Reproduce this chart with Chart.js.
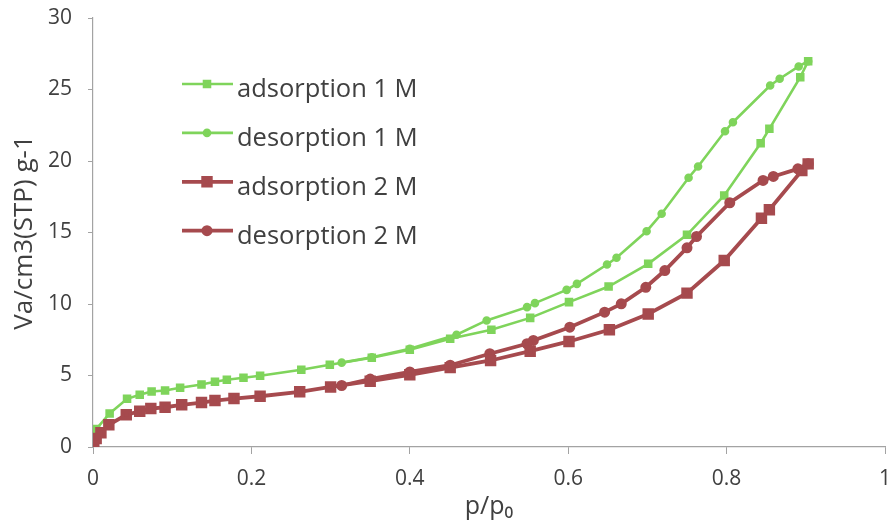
<!DOCTYPE html>
<html>
<head>
<meta charset="utf-8">
<title>Isotherm</title>
<script src="https://cdn.jsdelivr.net/npm/chart.js@4.4.1/dist/chart.umd.min.js"></script>
<style>
    html, body { margin: 0; padding: 0; background: #fff; }
    #wrap { width: 887px; height: 528px; }
</style>
</head>
<body>
<div id="wrap"><canvas id="isotherm_chart"></canvas></div>
<script>
// values (p/p0 and Va)
const ads1X = [0.001, 0.004, 0.021, 0.043, 0.059, 0.074, 0.091, 0.110, 0.137, 0.154, 0.169, 0.190, 0.211, 0.263, 0.299, 0.352, 0.400, 0.451, 0.503, 0.552, 0.601, 0.651, 0.701, 0.750, 0.797, 0.843, 0.854, 0.893, 0.903];
const ads1Y = [0.8, 1.25, 2.35, 3.37, 3.65, 3.88, 3.95, 4.14, 4.37, 4.56, 4.70, 4.84, 4.98, 5.40, 5.75, 6.24, 6.80, 7.57, 8.20, 9.03, 10.13, 11.22, 12.81, 14.84, 17.59, 21.24, 22.25, 25.86, 26.98];

const des1X = [0.903, 0.891, 0.867, 0.855, 0.808, 0.798, 0.764, 0.752, 0.718, 0.699, 0.661, 0.649, 0.611, 0.598, 0.558, 0.548, 0.497, 0.459, 0.400, 0.352, 0.314];
const des1Y = [26.98, 26.61, 25.75, 25.28, 22.71, 22.08, 19.62, 18.83, 16.31, 15.09, 13.23, 12.76, 11.41, 10.99, 10.06, 9.78, 8.85, 7.85, 6.87, 6.28, 5.90];

const ads2X = [0.001, 0.004, 0.010, 0.020, 0.042, 0.059, 0.073, 0.091, 0.112, 0.137, 0.154, 0.178, 0.211, 0.261, 0.300, 0.350, 0.400, 0.451, 0.502, 0.552, 0.601, 0.652, 0.701, 0.750, 0.797, 0.844, 0.854, 0.895, 0.903];
const ads2Y = [0.25, 0.6, 1.0, 1.55, 2.25, 2.5, 2.69, 2.78, 2.95, 3.11, 3.25, 3.39, 3.55, 3.86, 4.2, 4.6, 5.05, 5.55, 6.05, 6.70, 7.38, 8.2, 9.3, 10.76, 13.04, 16.0, 16.59, 19.34, 19.8];

const des2X = [0.903, 0.890, 0.859, 0.846, 0.804, 0.762, 0.750, 0.722, 0.698, 0.667, 0.646, 0.602, 0.556, 0.548, 0.501, 0.451, 0.400, 0.350, 0.314];
const des2Y = [19.8, 19.45, 18.92, 18.64, 17.08, 14.72, 13.93, 12.34, 11.17, 10.01, 9.43, 8.38, 7.45, 7.22, 6.52, 5.72, 5.25, 4.75, 4.3];

const seriesLabels = ['adsorption 1 M', 'desorption 1 M', 'adsorption 2 M', 'desorption 2 M'];
const xTitle = 'p/p\u2080';
const yTitle = 'Va/cm3(STP) g-1';

const green = '#7fd45b';
const red = '#a64a4e';
const axisColor = '#a3a3a3';
const textColor = '#404040';

const toPoints = (xs, ys) => xs.map((x, i) => ({x: x, y: ys[i]}));

// legend sits inside the plot, drawn by hand
const insideLegend = {
    id: 'insideLegend',
    afterDraw(chart) {
        const ctx = chart.ctx;
        ctx.save();
        chart.data.datasets.forEach((ds, i) => {
            const y = 84 + i * 48.9;
            ctx.strokeStyle = ds.borderColor;
            ctx.lineWidth = ds.borderWidth;
            ctx.beginPath();
            ctx.moveTo(182, y);
            ctx.lineTo(233, y);
            ctx.stroke();
            ctx.fillStyle = ds.pointBackgroundColor;
            ctx.strokeStyle = ds.pointBorderColor;
            Chart.helpers.drawPoint(ctx, {
                pointStyle: ds.pointStyle,
                radius: ds.pointRadius,
                borderWidth: 1,
                rotation: 0,
            }, 207, y);
            ctx.fillStyle = textColor;
            ctx.font = '25.5px "Open Sans"';
            ctx.textBaseline = 'alphabetic';
            ctx.textAlign = 'left';
            ctx.fillText(ds.label, 237, y + 13);
        });
        ctx.restore();
    }
};

const isothermCanvas = document.getElementById('isotherm_chart');
const isothermConfig = {
    type: 'scatter',
    data: {
        datasets: [{
            label: seriesLabels[0],
            data: toPoints(ads1X, ads1Y),
            borderColor: green,
            borderWidth: 2.6,
            pointStyle: 'rect',
            pointRadius: 4.2,
            pointBackgroundColor: green,
            pointBorderColor: green,
            order: 2,
        }, {
            label: seriesLabels[1],
            data: toPoints(des1X, des1Y),
            borderColor: green,
            borderWidth: 2.6,
            pointStyle: 'circle',
            pointRadius: 3,
            pointBackgroundColor: green,
            pointBorderColor: green,
            order: 2,
        }, {
            label: seriesLabels[2],
            data: toPoints(ads2X, ads2Y),
            borderColor: red,
            borderWidth: 3.8,
            pointStyle: 'rect',
            pointRadius: 5.4,
            pointBackgroundColor: red,
            pointBorderColor: red,
            order: 1,
        }, {
            label: seriesLabels[3],
            data: toPoints(des2X, des2Y),
            borderColor: red,
            borderWidth: 3.8,
            pointStyle: 'circle',
            pointRadius: 3.6,
            pointBackgroundColor: red,
            pointBorderColor: red,
            order: 1,
        }],
    },
    options: {
        responsive: true,
        maintainAspectRatio: false,
        animation: false,
        showLine: true,
        layout: {
            autoPadding: false,
            padding: {top: 18, right: 2, bottom: 0, left: 0},
        },
        plugins: {
            legend: {display: false},
            tooltip: {enabled: false},
        },
        scales: {
            x: {
                type: 'linear',
                min: 0,
                max: 1,
                ticks: {
                    stepSize: 0.2,
                    padding: 12,
                    color: textColor,
                    font: {family: 'Open Sans', size: 21},
                    callback: (v) => String(Number(v.toFixed(1))),
                },
                grid: {drawOnChartArea: false, color: axisColor, tickLength: 7},
                border: {color: axisColor, width: 1.2},
                title: {
                    display: true,
                    text: xTitle,
                    color: textColor,
                    font: {family: 'Open Sans', size: 25},
                    padding: {top: 0, bottom: 6},
                },
                afterFit: (scale) => {
                    scale.height = 81;
                    scale.paddingRight = 0;
                    scale.paddingLeft = 0;
                },
            },
            y: {
                min: 0,
                max: 30,
                ticks: {
                    stepSize: 5,
                    padding: 16,
                    color: textColor,
                    font: {family: 'Open Sans', size: 21},
                },
                grid: {drawOnChartArea: false, color: axisColor, tickLength: 5},
                border: {color: axisColor, width: 1.2},
                title: {
                    display: true,
                    text: yTitle,
                    color: textColor,
                    font: {family: 'Open Sans', size: 26},
                    padding: {top: 9, bottom: 0},
                },
                afterFit: (scale) => {
                    scale.width = 93;
                    scale.paddingTop = 0;
                },
            },
        },
    },
    plugins: [insideLegend],
};
const isothermChart = new Chart(isothermCanvas, isothermConfig);
</script>
</body>
</html>
